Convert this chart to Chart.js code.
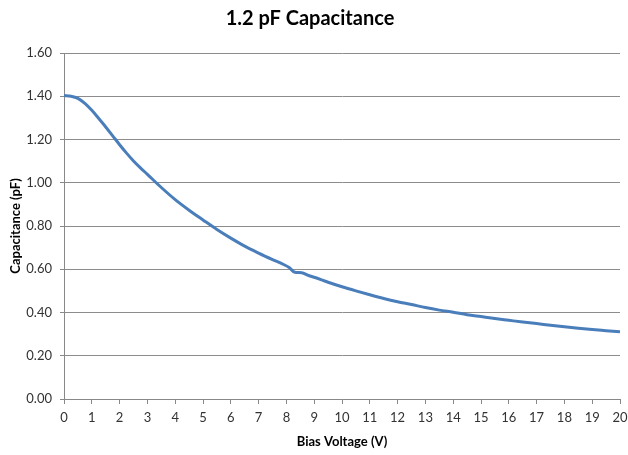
<!DOCTYPE html>
<html>
<head>
<meta charset="utf-8">
<script src="https://cdn.jsdelivr.net/npm/chart.js@4/dist/chart.umd.min.js"></script>
<style>
html,body{margin:0;padding:0;background:#fff;}
#wrap{width:628px;height:455px;position:relative;}
</style>
</head>
<body>
<div id="wrap"><canvas id="c" width="628" height="455"></canvas></div>
<script>
const chartTitle = "1.2 pF Capacitance";
const xTitle = "Bias Voltage (V)";
const yTitle = "Capacitance (pF)";
const voltage = [0,0.25,0.5,0.75,1,1.25,1.5,1.75,2,2.25,2.5,2.75,3,3.5,4,4.5,5,5.5,6,6.5,7,7.5,7.9,8.1,8.3,8.55,8.8,9,9.5,10,10.5,11,11.5,12,12.5,13,13.5,14,14.5,15,15.5,16,16.5,17,17.5,18,18.5,19,19.5,20];
const capacitance = [1.403,1.400,1.390,1.367,1.335,1.297,1.258,1.217,1.176,1.137,1.101,1.069,1.039,0.978,0.922,0.873,0.828,0.784,0.744,0.707,0.675,0.645,0.622,0.608,0.586,0.584,0.571,0.563,0.540,0.519,0.500,0.482,0.465,0.450,0.437,0.423,0.411,0.401,0.390,0.381,0.372,0.364,0.356,0.349,0.341,0.334,0.327,0.321,0.316,0.311];

const points = voltage.map((v,i)=>({x:v,y:capacitance[i]}));
const FONT = "Lato, 'Open Sans', sans-serif";

new Chart(document.getElementById('c'), {
  type: 'line',
  data: { datasets: [{
    data: points,
    borderColor: '#4A7EBB',
    borderWidth: 3,
    pointRadius: 0,
    cubicInterpolationMode: 'monotone',
    fill: false
  }]},
  options: {
    responsive: false,
    animation: false,
    layout: { padding: { left: 0, right: 8, top: 0, bottom: 0 } },
    plugins: {
      legend: { display: false },
      tooltip: { enabled: false },
      title: {
        display: true,
        text: chartTitle,
        color: '#000',
        font: { family: FONT, size: 20, weight: 'bold' },
        padding: { top: 7, bottom: 22 }
      }
    },
    scales: {
      x: {
        type: 'linear',
        min: 0, max: 20,
        afterFit: s => { s.height = 56; s.paddingRight = 0; s.paddingLeft = 0; },
        ticks: { stepSize: 1, color: '#333', font: { family: FONT, size: 13 }, padding: 6, maxRotation: 0 },
        grid: { color: 'rgba(0,0,0,0)', tickColor: '#888', tickLength: 5, drawTicks: true },
        border: { color: '#888', width: 1 },
        title: { display: true, text: xTitle, color: '#000', font: { family: FONT, size: 13, weight: 'bold' }, padding: { top: 4, bottom: 5 } }
      },
      y: {
        min: 0, max: 1.6,
        afterFit: s => { s.width = 64; },
        ticks: { stepSize: 0.2, color: '#333', font: { family: FONT, size: 13 }, padding: 8, callback: v => Number(v).toFixed(2) },
        grid: { color: '#8c8c8c', tickColor: '#888', tickLength: 4 },
        border: { color: '#888', width: 1 },
        title: { display: true, text: yTitle, color: '#000', font: { family: FONT, size: 13, weight: 'bold' }, padding: { top: 8, bottom: 0 } }
      }
    }
  }
});
</script>
</body>
</html>
